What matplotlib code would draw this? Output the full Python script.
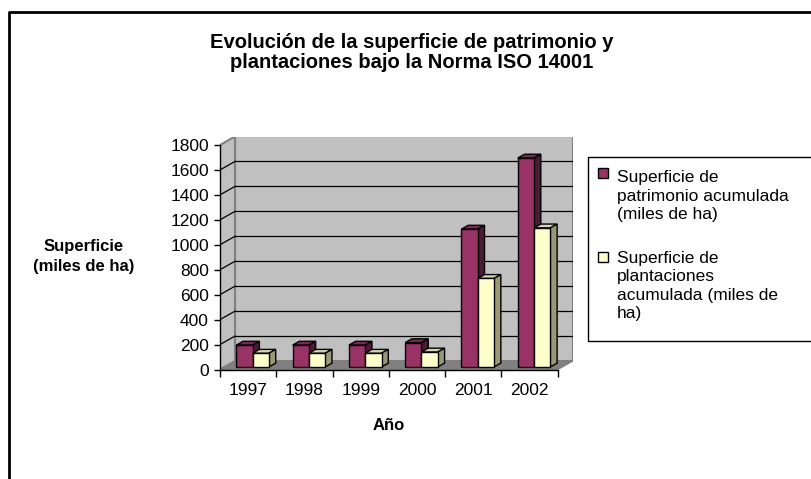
import numpy as np
import matplotlib
matplotlib.use("Agg")
import matplotlib.pyplot as plt
from matplotlib.patches import Polygon, Rectangle
from matplotlib.lines import Line2D

# datos
years = ['1997', '1998', '1999', '2000', '2001', '2002']
patrimonio = [175, 175, 175, 195, 1105, 1675]
plantaciones = [110, 110, 110, 120, 710, 1115]
yticks = list(range(0, 1801, 200))

title = 'Evolución de la superficie de patrimonio y\nplantaciones bajo la Norma ISO 14001'
ylabel = 'Superficie\n(miles de ha)'
xlabel = 'Año'
legend_labels = ['Superficie de\npatrimonio acumulada\n(miles de ha)',
                 'Superficie de\nplantaciones\nacumulada (miles de\nha)']

W, H = 812, 479
plt.rcParams['font.family'] = ['Liberation Sans', 'DejaVu Sans']

fig = plt.figure(figsize=(W / 100, H / 100), dpi=100)


def fx(px):
    return px / W


def fy(py):
    return 1 - py / H


# geometria de la caja 3D (pixeles)
front_left, front_right = 220, 557.7
front_bottom, front_top = 369.5, 145
depth_dx, depth_dy = 15, 8.5

ncat = len(years)
ymax = yticks[-1]
cat_px = (front_right - front_left) / ncat
val_px = (front_bottom - front_top) / ymax
DX = depth_dx / cat_px
DY = depth_dy / val_px

ax = fig.add_axes([fx(front_left), fy(front_bottom),
                   (front_right + depth_dx - front_left) / W,
                   (front_bottom - front_top + depth_dy) / H])
ax.set_xlim(0, ncat + DX)
ax.set_ylim(0, ymax + DY)
ax.patch.set_visible(False)

# paredes y suelo
wall, wall_edge = '#c0c0c0', '#808080'
ax.add_patch(Polygon([(DX, DY), (ncat + DX, DY), (ncat + DX, ymax + DY), (DX, ymax + DY)],
                     fc=wall, ec=wall_edge, lw=1.5, zorder=0))
ax.add_patch(Polygon([(0, 0), (DX, DY), (DX, ymax + DY), (0, ymax)],
                     fc=wall, ec=wall_edge, lw=1.5, zorder=0))
ax.add_patch(Polygon([(0, 0), (ncat, 0), (ncat + DX, DY), (DX, DY)],
                     fc='#808080', ec='#808080', lw=1, zorder=0.5))
for v in yticks[1:-1]:
    ax.plot([DX, ncat + DX], [v + DY, v + DY], color='black', lw=0.9, zorder=1)
    ax.plot([0, DX], [v, v + DY], color='black', lw=0.9, zorder=1)

# barras 3D
bar_w = 0.29
f0, f1 = 0.3, 0.75
ddx, ddy = (f1 - f0) * DX, (f1 - f0) * DY
series = [
    (patrimonio, 0.355, ('#993366', '#7a2952', '#4d1a33'), 2),
    (plantaciones, 0.645, ('#ffffcc', '#d6d6ab', '#999977'), 3),
]
for vals, off, (c_front, c_top, c_side), z in series:
    bars = ax.bar(np.arange(ncat) + off + f0 * DX, vals, width=bar_w, bottom=f0 * DY,
                  color=c_front, edgecolor='black', linewidth=1, zorder=z + 0.2)
    for r in bars:
        x0 = r.get_x()
        x1 = x0 + r.get_width()
        yb = r.get_y()
        yt = yb + r.get_height()
        ax.add_patch(Polygon([(x0, yt), (x1, yt), (x1 + ddx, yt + ddy), (x0 + ddx, yt + ddy)],
                             fc=c_top, ec='black', lw=1, zorder=z))
        ax.add_patch(Polygon([(x1, yb), (x1 + ddx, yb + ddy), (x1 + ddx, yt + ddy), (x1, yt)],
                             fc=c_side, ec='black', lw=1, zorder=z))

# ejes
for s in ['top', 'right']:
    ax.spines[s].set_visible(False)
ax.spines['left'].set_bounds(0, ymax)
ax.spines['bottom'].set_bounds(0, ncat)
for s in ['left', 'bottom']:
    ax.spines[s].set_color('black')
    ax.spines[s].set_linewidth(1)
    ax.spines[s].set_zorder(5)

ax.set_yticks(yticks)
ax.tick_params(axis='y', length=4, width=1, pad=4, labelsize=12.5)
ax.set_xticks(np.arange(ncat + 1))
ax.set_xticklabels([])
ax.set_xticks(np.arange(ncat) + 0.5, minor=True)
ax.set_xticklabels(years, minor=True)
ax.tick_params(axis='x', which='major', length=5, width=1)
ax.tick_params(axis='x', which='minor', length=0, pad=9.5, labelsize=12.5)

# textos
fig.text(fx(412), fy(52.4), title, ha='center', va='center', fontsize=14.5,
         fontweight='bold', linespacing=1.1)
fig.text(fx(83.3), fy(256.7), ylabel, ha='center', va='center', fontsize=12,
         fontweight='bold', linespacing=1.4)
fig.text(fx(389), fy(425), xlabel, ha='center', va='center', fontsize=12,
         fontweight='bold')

# leyenda (cortada por el borde derecho, como en el original)
fig.add_artist(Line2D([1.0, fx(588), fx(588), 1.0], [fy(157), fy(157), fy(341), fy(341)],
                      transform=fig.transFigure, color='black', lw=1))
leg_colors = ['#993366', '#ffffcc']
leg_marker_y = [168, 252]
leg_text_y = [196, 286]
for lab, col, my, ty in zip(legend_labels, leg_colors, leg_marker_y, leg_text_y):
    fig.add_artist(Rectangle((fx(598), fy(my + 10)), 10 / W, 10 / H,
                             transform=fig.transFigure, fc=col, ec='black', lw=1))
    fig.text(fx(617), fy(ty), lab, ha='left', va='center', fontsize=12.5, linespacing=1.3)

# marco del grafico (solo se ven los bordes superior e izquierdo)
fig.add_artist(Line2D([fx(9.5), fx(9.5), 1.0], [0.0, fy(12), fy(12)],
                      transform=fig.transFigure, color='black', lw=2))

fig.savefig('out.png', dpi=100)
